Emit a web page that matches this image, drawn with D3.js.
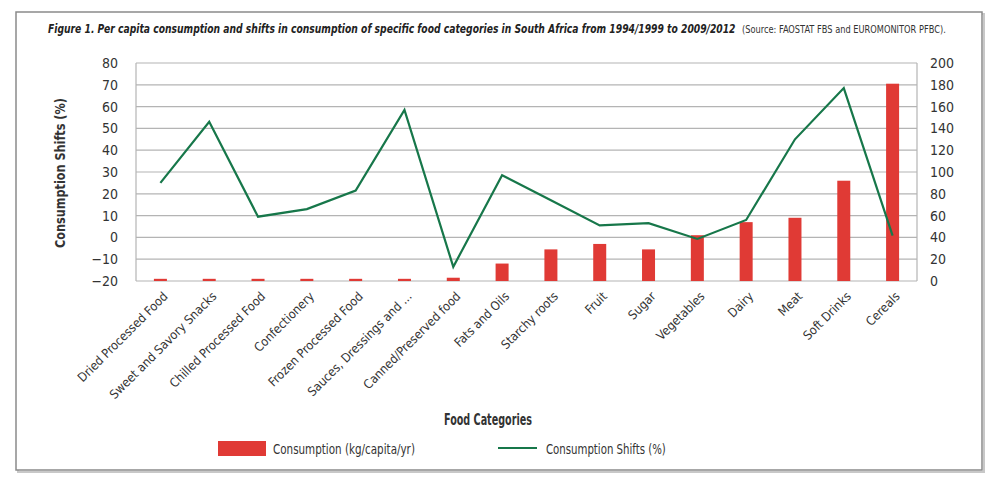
<!DOCTYPE html>
<html lang="en">
<head>
    <meta charset="UTF-8">
    <script src="https://d3js.org/d3.v7.min.js"></script>
    <style>
        body { margin: 0; background: #fff; }
        svg text { font-family: "Liberation Sans Narrow", "DejaVu Sans Condensed", "Liberation Sans", sans-serif; }
    </style>
</head>
<body>

<svg width="1000" height="485"></svg>

<script>
    // chart data
    var categories = ["Dried Processed Food", "Sweet and Savory Snacks", "Chilled Processed Food",
        "Confectionery", "Frozen Processed Food", "Sauces, Dressings and ...", "Canned/Preserved food",
        "Fats and Oils", "Starchy roots", "Fruit", "Sugar", "Vegetables", "Dairy", "Meat",
        "Soft Drinks", "Cereals"];
    var consumption = [2, 2, 2, 2, 2, 2, 3, 16, 29, 34, 29, 42, 54, 58, 92, 181]; // kg/capita/yr (right axis)
    var shifts = [25, 53, 9.5, 13, 21.5, 58.5, -13.5, 28.5, 17, 5.5, 6.5, -0.7, 8, 45, 68.5, 0.8]; // % (left axis)
    var leftTicks = [-20, -10, 0, 10, 20, 30, 40, 50, 60, 70, 80];
    var rightTicks = [0, 20, 40, 60, 80, 100, 120, 140, 160, 180, 200];

    var barColor = "#e03a35";
    var lineColor = "#17774a";
    var gridColor = "#b4b4b4";

    var svg = d3.select("svg"),
        margin = {top: 63, right: 83, bottom: 204, left: 136},
        width = 1000 - margin.left - margin.right,
        height = 485 - margin.top - margin.bottom;

    // squeeze a text horizontally to a target width (the original uses a condensed face)
    function condensedText(parent, x, y, w, anchor, rotate) {
        var wrap = parent.append("g");
        var t = wrap.append("text").attr("text-anchor", anchor || "start");
        t.fit = function() {
            var len = t.node().getComputedTextLength();
            var sx = Math.min(1, w / len);
            wrap.attr("transform", "translate(" + x + "," + y + ")" + (rotate ? " rotate(" + rotate + ")" : "") + " scale(" + sx + ",1)");
            return t;
        };
        return t;
    }

    // outer frame with a little shadow
    svg.append("rect").attr("x", 18).attr("y", 14).attr("width", 966).attr("height", 458)
        .attr("fill", "none").attr("stroke", "#c8c8c8").attr("stroke-width", 2);
    svg.append("rect").attr("x", 16).attr("y", 12).attr("width", 966).attr("height", 458)
        .attr("fill", "#fff").attr("stroke", "#8a8a8a").attr("stroke-width", 1.5);

    // title + source
    condensedText(svg, 48, 33, 688).attr("fill", "#222")
        .attr("font-weight", "bold").attr("font-style", "italic").attr("font-size", 13)
        .text("Figure 1. Per capita consumption and shifts in consumption of specific food categories in South Africa from 1994/1999 to 2009/2012")
        .fit();
    condensedText(svg, 742, 33, 204).attr("fill", "#333").attr("font-size", 10)
        .text("(Source: FAOSTAT FBS and EUROMONITOR PFBC).")
        .fit();

    var g = svg.append("g").attr("transform", "translate(" + margin.left + "," + margin.top + ")");

    var x = d3.scaleBand().domain(categories).range([0, width]);
    var yShift = d3.scaleLinear().domain([-20, 80]).range([height, 0]);
    var yCons = d3.scaleLinear().domain([0, 200]).range([height, 0]);

    // gridlines
    g.selectAll(".grid").data(leftTicks).enter().append("line")
        .attr("x1", 0).attr("x2", width)
        .attr("y1", function(d) { return yShift(d); })
        .attr("y2", function(d) { return yShift(d); })
        .attr("stroke", gridColor).attr("stroke-width", 1.2);

    // plot frame sides
    g.append("line").attr("x1", 0).attr("x2", 0).attr("y1", 0).attr("y2", height)
        .attr("stroke", gridColor).attr("stroke-width", 1.2);
    g.append("line").attr("x1", width).attr("x2", width).attr("y1", 0).attr("y2", height)
        .attr("stroke", gridColor).attr("stroke-width", 1.2);

    // bars
    var barW = 13;
    g.selectAll(".bar").data(consumption).enter().append("rect")
        .attr("x", function(d, i) { return x(categories[i]) + x.bandwidth() / 2 - barW / 2; })
        .attr("y", function(d) { return yCons(d); })
        .attr("width", barW)
        .attr("height", function(d) { return yCons(0) - yCons(d); })
        .attr("fill", barColor);

    // line
    var line = d3.line()
        .x(function(d, i) { return x(categories[i]) + x.bandwidth() / 2; })
        .y(function(d) { return yShift(d); });
    g.append("path").datum(shifts).attr("d", line)
        .attr("fill", "none").attr("stroke", lineColor).attr("stroke-width", 2.2)
        .attr("stroke-linejoin", "miter");

    // left axis
    var leftAxis = g.append("g").call(d3.axisLeft(yShift).tickValues(leftTicks).tickSize(0).tickPadding(18));
    leftAxis.select(".domain").remove();
    leftAxis.selectAll("text").attr("font-size", 14).attr("fill", "#333");

    // right axis
    var rightAxis = g.append("g").attr("transform", "translate(" + width + ",0)")
        .call(d3.axisRight(yCons).tickValues(rightTicks).tickSize(0).tickPadding(13));
    rightAxis.select(".domain").remove();
    rightAxis.selectAll("text").attr("font-size", 14).attr("fill", "#333");

    // x axis labels rotated
    var xAxis = g.append("g").attr("transform", "translate(0," + height + ")")
        .call(d3.axisBottom(x).tickSize(0).tickPadding(0));
    xAxis.select(".domain").remove();
    xAxis.selectAll("text")
        .attr("font-size", 12.5).attr("fill", "#333")
        .attr("text-anchor", "end")
        .attr("dy", "0.35em")
        .attr("transform", "translate(5,13) rotate(-45)");

    // axis titles
    condensedText(svg, 60, 173, 150, "middle", -90)
        .attr("font-weight", "bold").attr("font-size", 14).attr("dy", "0.35em")
        .attr("fill", "#333").text("Consumption Shifts (%)").fit();
    condensedText(svg, 488, 425, 88, "middle")
        .attr("font-weight", "bold").attr("font-size", 15)
        .attr("fill", "#333").text("Food Categories").fit();

    // legend
    var legend = svg.append("g");
    legend.append("rect").attr("x", 218).attr("y", 441).attr("width", 48).attr("height", 15).attr("fill", barColor);
    condensedText(legend, 273, 454, 142).attr("font-size", 13.5).attr("fill", "#333")
        .text("Consumption (kg/capita/yr)").fit();
    legend.append("line").attr("x1", 498).attr("x2", 537).attr("y1", 448).attr("y2", 448)
        .attr("stroke", lineColor).attr("stroke-width", 2.2);
    condensedText(legend, 546, 454, 120).attr("font-size", 13.5).attr("fill", "#333")
        .text("Consumption Shifts (%)").fit();
</script>

</body>
</html>
